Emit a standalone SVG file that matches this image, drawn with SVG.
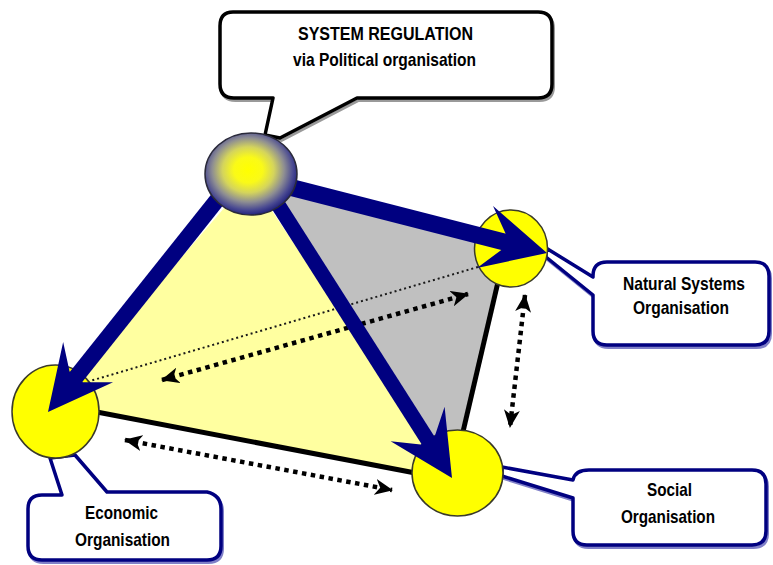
<svg xmlns="http://www.w3.org/2000/svg" width="773" height="565" viewBox="0 0 773 565">
<defs>
<style>
.call-blk{fill:#ffffff;stroke:#000000;stroke-width:3.5;stroke-linejoin:round}
.call-blu{fill:#ffffff;stroke:#000080;stroke-width:3.5;stroke-linejoin:round}
.sh-blk{fill:none;stroke:#9a9a9a;stroke-width:3}
.sh-blu{fill:none;stroke:#8080c8;stroke-width:3}
.lbl{font-family:"Liberation Sans Narrow","Liberation Sans",Arial,sans-serif;font-weight:bold;font-size:18.5px;fill:#000000}
.shaft{stroke:#000080;fill:none;stroke-linecap:butt}
.head{fill:#000080}
.edge{stroke:#000000;stroke-width:5;fill:none}
.dots{stroke:#000000;stroke-width:4.5;stroke-dasharray:4.5 4.5;fill:none;marker-start:url(#dh);marker-end:url(#dh)}
.thin{stroke:#1a1a1a;stroke-width:2;stroke-dasharray:2 3;fill:none}
.ball{fill:#ffff00;stroke:#3a3a2a;stroke-width:1.5}
</style>
<radialGradient id="topg" cx="0.47" cy="0.45" r="0.56">
<stop offset="0" stop-color="#ffff00"/>
<stop offset="0.28" stop-color="#fafa18"/>
<stop offset="0.5" stop-color="#d4d45c"/>
<stop offset="0.7" stop-color="#8e8e92"/>
<stop offset="0.87" stop-color="#4a4a92"/>
<stop offset="1" stop-color="#1e1e7a"/>
</radialGradient>
<marker id="dh" viewBox="0 0 18 16" refX="17" refY="8" markerWidth="18" markerHeight="16" markerUnits="userSpaceOnUse" orient="auto-start-reverse">
<path d="M0,0 L18,8 L0,16 L5,8 Z" fill="#000000"/>
</marker>
<path id="head" d="M0,0 L-64,-32 L-45,-8.5 L-45,8.5 L-64,32 Z"/>
</defs>

<rect width="773" height="565" fill="#ffffff"/>

<!-- callouts -->
<g id="callout-regulation">
<path class="sh-blk" transform="translate(1.5,2.5)" d="M233,12 H538 Q552,12 552,26 V84 Q552,98 538,98 H357 L280,138 L265,135 L273,98 H234 Q220,98 220,84 V26 Q220,12 233,12 Z"/>
<path class="call-blk" d="M233,12 H538 Q552,12 552,26 V84 Q552,98 538,98 H357 L280,138 L265,135 L273,98 H234 Q220,98 220,84 V26 Q220,12 233,12 Z"/>
<text class="lbl" x="298" y="39.5" textLength="175" lengthAdjust="spacingAndGlyphs">SYSTEM REGULATION</text>
<text class="lbl" x="293" y="65.5" textLength="183" lengthAdjust="spacingAndGlyphs">via Political organisation</text>
</g>

<g id="callout-natural">
<path class="sh-blu" transform="translate(1.5,2.5)" d="M607,262 H755 Q769,262 769,276 V331 Q769,345 755,345 H607 Q593,345 593,331 V295 L546,257 L546,248 L593,277 V276 Q593,262 607,262 Z"/>
<path class="call-blu" d="M607,262 H755 Q769,262 769,276 V331 Q769,345 755,345 H607 Q593,345 593,331 V295 L546,257 L546,248 L593,277 V276 Q593,262 607,262 Z"/>
<text class="lbl" x="623" y="290" textLength="122" lengthAdjust="spacingAndGlyphs">Natural Systems</text>
<text class="lbl" x="633" y="313.5" textLength="96" lengthAdjust="spacingAndGlyphs">Organisation</text>
</g>

<g id="callout-economic">
<path class="sh-blu" transform="translate(1.5,2.5)" d="M42,495 H62 L50,458 L75,455 L107,492 H207 Q221,495 221,509 V546 Q221,560 207,560 H42 Q28,560 28,546 V509 Q28,495 42,495 Z"/>
<path class="call-blu" d="M42,495 H62 L50,458 L75,455 L107,492 H207 Q221,495 221,509 V546 Q221,560 207,560 H42 Q28,560 28,546 V509 Q28,495 42,495 Z"/>
<text class="lbl" x="85" y="518.5" textLength="73" lengthAdjust="spacingAndGlyphs">Economic</text>
<text class="lbl" x="75" y="545.5" textLength="95" lengthAdjust="spacingAndGlyphs">Organisation</text>
</g>

<g id="callout-social">
<path class="sh-blu" transform="translate(1.5,2.5)" d="M573,480 Q575,470 589,470 H752 Q766,470 766,484 V531 Q766,545 752,545 H587 Q573,545 573,531 V498 L502,476 L502,467 Z"/>
<path class="call-blu" d="M573,480 Q575,470 589,470 H752 Q766,470 766,484 V531 Q766,545 752,545 H587 Q573,545 573,531 V498 L502,476 L502,467 Z"/>
<text class="lbl" x="647" y="495.5" textLength="45" lengthAdjust="spacingAndGlyphs">Social</text>
<text class="lbl" x="621" y="522.5" textLength="94" lengthAdjust="spacingAndGlyphs">Organisation</text>
</g>

<!-- tetrahedron faces -->
<g id="faces">
<polygon points="250,178 55,404 452,480" fill="#ffffa0"/>
<polygon points="255,178 502,250 497,285 463,432 452,478" fill="#c0c0c0"/>
</g>

<g id="connectors">
<line class="edge" x1="55" y1="404" x2="452" y2="480"/>
<line class="edge" stroke-width="4" x1="498" y1="282" x2="462" y2="436"/>
<line class="thin" x1="478" y1="267" x2="90" y2="381"/>
<line class="dots" x1="162" y1="380" x2="468" y2="294"/>
<line class="dots" x1="125" y1="440" x2="392" y2="490"/>
<line class="dots" x1="525" y1="295" x2="510" y2="427"/>
</g>

<g id="node-economic"><ellipse class="ball" cx="55.5" cy="411.5" rx="43.5" ry="46.5"/></g>
<g id="node-social"><ellipse class="ball" cx="457.5" cy="473" rx="45.5" ry="43"/></g>
<g id="node-natural"><ellipse class="ball" cx="511" cy="248.5" rx="36.5" ry="38.5"/></g>

<g id="arrows">
<line class="shaft" stroke-width="16" x1="229" y1="185" x2="73" y2="380.8"/>
<use href="#head" class="head" transform="translate(48,412) rotate(128.8)"/>
<line class="shaft" stroke-width="15" x1="275" y1="200" x2="430.5" y2="444.3"/>
<use href="#head" class="head" transform="translate(452,478) rotate(57.5)"/>
<line class="shaft" stroke-width="17" x1="262" y1="180" x2="508.3" y2="243"/>
<use href="#head" class="head" transform="translate(547,253) rotate(14.5)"/>
</g>

<g id="node-regulation"><ellipse cx="251" cy="174" rx="46" ry="41" fill="url(#topg)" stroke="#2a2a3a" stroke-width="1.5"/></g>
</svg>
